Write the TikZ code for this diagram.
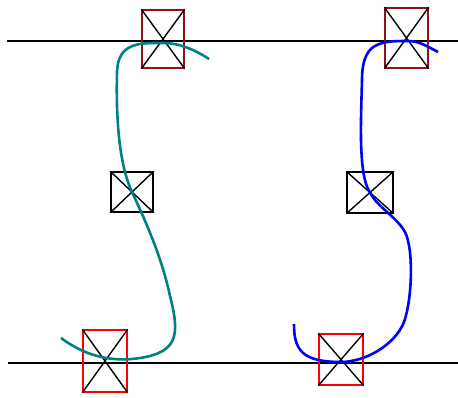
\documentclass[tikz,border=0pt]{standalone}
\definecolor{darkred}{RGB}{140,20,20}
\tikzset{
  box/.style={draw, line width=1.3pt, inner sep=0pt, fill=none},
  topbox/.style={box, draw=darkred},
  lowbox/.style={box, draw=red},
  crossline/.style={line width=1.4pt},
  wire/.style={line width=2.6pt}
}
\begin{document}
\begin{tikzpicture}[x=1pt,y=-1pt]
\useasboundingbox (0,0) rectangle (458,398);

% the two rails
\coordinate (top west) at (7,41);
\coordinate (top east) at (458,41);
\coordinate (low west) at (8,363);
\coordinate (low east) at (458,363);
\draw[line width=1.3pt] (top west) -- (top east);
\draw[line width=1.3pt] (low west) -- (low east);

% boxes
\node[topbox, minimum width=42pt, minimum height=58pt] (tl) at (163,39) {};
\node[topbox, minimum width=43pt, minimum height=60pt] (tr) at (406.5,38) {};
\node[box, minimum width=42pt, minimum height=40pt] (ml) at (132,192) {};
\node[box, minimum width=46pt, minimum height=41pt] (mr) at (370,192.5) {};
\node[lowbox, minimum width=44pt, minimum height=62pt] (bl) at (105,361) {};
\node[lowbox, minimum width=44pt, minimum height=51pt] (br) at (341,359.5) {};

\foreach \n in {tl,tr,ml,mr,bl,br}
  \draw[crossline] (\n.north west) -- (\n.south east)
                   (\n.north east) -- (\n.south west);

% left wire
\draw[wire, teal]
(209,59) .. controls (195,50) and (180,43) .. (163,43)
.. controls (140,43) and (118,42) .. (117,72)
.. controls (116,112) and (118,162) .. (ml.center)
.. controls (146,222) and (162,258) .. (170,296)
.. controls (180,335) and (178,352) .. (140,358)
.. controls (115,362) and (88,358) .. (61,338);

% right wire
\draw[wire, blue]
(438,52) .. controls (425,45) and (418,41) .. (408,41)
.. controls (380,41) and (362,42) .. (362,80)
.. controls (361,120) and (358,175) .. (mr.center)
.. controls (378,208) and (395,215) .. (405,232)
.. controls (414,250) and (412,300) .. (404,322)
.. controls (395,345) and (365,362) .. (341,362)
.. controls (302,362) and (294,350) .. (294,324);
\end{tikzpicture}
\end{document}
